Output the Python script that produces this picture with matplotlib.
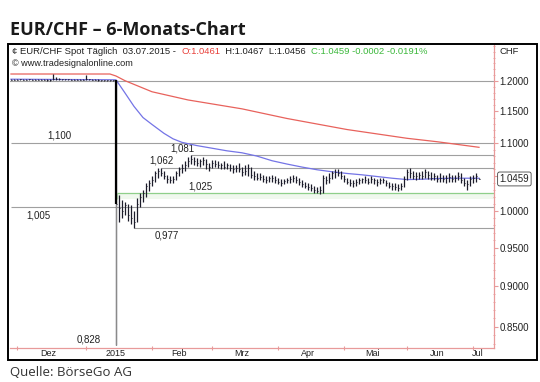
import numpy as np
import pandas as pd
import matplotlib
matplotlib.use('Agg')
import matplotlib.pyplot as plt
from matplotlib.patches import Rectangle
from matplotlib.ticker import FixedLocator, NullFormatter

# daily bars, 2014-11-27 .. 2015-07-03 (business days)
bar_high = [
    # Nov 27 - Jan 14 (peg)
    1.2030, 1.2028, 1.2030, 1.2032, 1.2030, 1.2032, 1.2034, 1.2032, 1.2030, 1.2030,
    1.2028, 1.2026, 1.2026, 1.2040, 1.2110, 1.2060, 1.2050, 1.2040, 1.2036, 1.2034,
    1.2032, 1.2032, 1.2030, 1.2030, 1.2028, 1.2105, 1.2040, 1.2030, 1.2028, 1.2026,
    1.2024, 1.2022, 1.2020, 1.2018, 1.2016,
    # Jan 15 - Jan 30
    1.2010, 1.022, 1.015, 1.012, 1.010, 1.008, 1.000, 1.018, 1.025, 1.030, 1.040, 1.045,
    # Feb
    1.050, 1.058, 1.062, 1.062, 1.058, 1.052, 1.050, 1.050, 1.058, 1.064,
    1.068, 1.072, 1.078, 1.081, 1.078, 1.077, 1.076, 1.078, 1.075, 1.070,
    # Mar
    1.074, 1.074, 1.072, 1.070, 1.072, 1.070, 1.068, 1.066, 1.066, 1.070, 1.064,
    1.066, 1.068, 1.064, 1.058, 1.055, 1.054, 1.052, 1.050, 1.050, 1.052, 1.050,
    # Apr
    1.048, 1.046, 1.046, 1.048, 1.050, 1.052, 1.050, 1.047, 1.044, 1.042, 1.040,
    1.038, 1.036, 1.034, 1.035, 1.052, 1.050, 1.054, 1.058, 1.060, 1.060, 1.058,
    # May
    1.052, 1.048, 1.046, 1.044, 1.046, 1.048, 1.048, 1.050, 1.048, 1.050, 1.048,
    1.046, 1.048, 1.048, 1.044, 1.042, 1.040, 1.040, 1.038, 1.040, 1.050,
    # Jun
    1.060, 1.062, 1.058, 1.056, 1.056, 1.058, 1.060, 1.058, 1.056, 1.054, 1.052,
    1.054, 1.052, 1.052, 1.054, 1.052, 1.052, 1.056, 1.054, 1.048, 1.044, 1.050,
    # Jul
    1.052, 1.054, 1.0467,
]
bar_low = [
    1.2010, 1.2010, 1.2012, 1.2015, 1.2012, 1.2012, 1.2015, 1.2014, 1.2012, 1.2010,
    1.2010, 1.2010, 1.2008, 1.2008, 1.2010, 1.2015, 1.2020, 1.2018, 1.2016, 1.2015,
    1.2014, 1.2014, 1.2012, 1.2012, 1.2010, 1.2010, 1.2012, 1.2010, 1.2010, 1.2008,
    1.2008, 1.2006, 1.2005, 1.2004, 1.2004,
    0.828, 0.985, 0.990, 0.995, 0.986, 0.982, 0.977, 0.985, 1.005, 1.012, 1.020, 1.028,
    1.035, 1.042, 1.048, 1.050, 1.046, 1.040, 1.040, 1.040, 1.045, 1.050,
    1.055, 1.058, 1.064, 1.068, 1.066, 1.065, 1.064, 1.066, 1.060, 1.058,
    1.062, 1.064, 1.062, 1.060, 1.060, 1.060, 1.058, 1.055, 1.056, 1.056, 1.050,
    1.052, 1.050, 1.048, 1.045, 1.044, 1.044, 1.042, 1.040, 1.041, 1.042, 1.040,
    1.038, 1.036, 1.038, 1.040, 1.040, 1.042, 1.040, 1.037, 1.034, 1.032, 1.030,
    1.028, 1.025, 1.025, 1.024, 1.026, 1.038, 1.040, 1.046, 1.048, 1.050, 1.046,
    1.042, 1.038, 1.036, 1.034, 1.036, 1.038, 1.040, 1.040, 1.038, 1.040, 1.038,
    1.036, 1.038, 1.040, 1.036, 1.032, 1.030, 1.030, 1.028, 1.030, 1.034,
    1.044, 1.048, 1.046, 1.044, 1.046, 1.046, 1.048, 1.046, 1.044, 1.044, 1.042,
    1.042, 1.042, 1.040, 1.042, 1.042, 1.042, 1.044, 1.040, 1.036, 1.030, 1.036,
    1.040, 1.042, 1.0456,
]
bar_close = [
    1.2022, 1.2020, 1.2024, 1.2025, 1.2022, 1.2024, 1.2026, 1.2024, 1.2022, 1.2020,
    1.2018, 1.2016, 1.2014, 1.2020, 1.2030, 1.2035, 1.2032, 1.2028, 1.2026, 1.2025,
    1.2024, 1.2024, 1.2022, 1.2022, 1.2020, 1.2030, 1.2026, 1.2020, 1.2018, 1.2016,
    1.2015, 1.2014, 1.2012, 1.2010, 1.2010,
    1.010, 1.004, 1.000, 1.008, 0.995, 0.990, 0.985, 1.010, 1.020, 1.025, 1.035, 1.040,
    1.045, 1.055, 1.058, 1.055, 1.050, 1.046, 1.044, 1.046, 1.054, 1.060,
    1.062, 1.066, 1.072, 1.075, 1.072, 1.070, 1.072, 1.074, 1.068, 1.064,
    1.070, 1.068, 1.066, 1.066, 1.064, 1.066, 1.062, 1.060, 1.062, 1.060, 1.056,
    1.058, 1.062, 1.052, 1.050, 1.048, 1.049, 1.046, 1.045, 1.047, 1.048, 1.044,
    1.042, 1.040, 1.043, 1.044, 1.046, 1.047, 1.044, 1.041, 1.038, 1.036, 1.034,
    1.032, 1.030, 1.029, 1.030, 1.048, 1.045, 1.048, 1.054, 1.056, 1.054, 1.050,
    1.046, 1.042, 1.040, 1.040, 1.042, 1.044, 1.046, 1.044, 1.042, 1.046, 1.044,
    1.042, 1.044, 1.045, 1.040, 1.036, 1.035, 1.034, 1.033, 1.036, 1.046,
    1.056, 1.054, 1.050, 1.050, 1.052, 1.050, 1.056, 1.052, 1.048, 1.050, 1.046,
    1.048, 1.046, 1.048, 1.049, 1.046, 1.048, 1.050, 1.044, 1.040, 1.038, 1.046,
    1.048, 1.050, 1.0459,
]

# moving averages (date, value)
ma_blue_dates = ['2014-11-27', '2015-01-15', '2015-01-20', '2015-01-23', '2015-01-28',
                 '2015-02-02', '2015-02-06', '2015-02-11', '2015-02-16', '2015-02-23',
                 '2015-03-02', '2015-03-09', '2015-03-16', '2015-03-23', '2015-03-30',
                 '2015-04-06', '2015-04-13', '2015-04-20', '2015-04-27', '2015-05-04',
                 '2015-05-11', '2015-05-18', '2015-05-25', '2015-06-01', '2015-06-08',
                 '2015-06-15', '2015-06-22', '2015-06-29', '2015-07-03']
ma_blue = [1.2030, 1.2020, 1.1800, 1.1580, 1.1400, 1.1290, 1.1150, 1.1065, 1.1010, 1.0960,
           1.0920, 1.0880, 1.0850, 1.0800, 1.0730, 1.0680, 1.0635, 1.0595, 1.0565, 1.0540,
           1.0520, 1.0495, 1.0470, 1.0450, 1.0455, 1.0465, 1.0470, 1.0470, 1.0470]
ma_red_dates = ['2014-11-27', '2015-01-13', '2015-01-15', '2015-01-20', '2015-02-02',
                '2015-02-18', '2015-03-16', '2015-04-06', '2015-05-04', '2015-06-01',
                '2015-06-15', '2015-07-03']
ma_red = [1.2118, 1.2118, 1.2084, 1.2005, 1.1820, 1.1685, 1.1540, 1.1385, 1.1210, 1.1073,
          1.1020, 1.0934]

# marked levels
levels = [1.100, 1.081, 1.062, 1.005, 0.977]
level_labels = ['1,100', '1,081', '1,062', '1,005', '0,977']
level_start = ['2014-11-27', '2015-02-19', '2015-02-05', '2014-11-27', '2015-01-23']
level_label_date = ['2014-12-19', '2015-02-16', '2015-02-05', '2014-12-10', '2015-02-09']
level_above = [True, True, True, False, False]
support = 1.025
low_828 = 0.828

month_names = ['Dez', '2015', 'Feb', 'Mrz', 'Apr', 'Mai', 'Jun', 'Jul']
ytick_vals = [0.85, 0.90, 0.95, 1.00, 1.05, 1.10, 1.15, 1.20]
last_close = 1.0459

dates = pd.bdate_range('2014-11-27', '2015-07-03')
xs = np.arange(len(dates))


def idx(d):
    return dates.get_indexer(pd.to_datetime(d))


fig = plt.figure(figsize=(5.4, 3.82), dpi=100)
W, H = 540.0, 382.0
ax = fig.add_axes([10 / W, 34 / H, 484 / W, 304 / H])
ax.set_yscale('log')
ax.set_ylim(0.8251, 1.2639)
ax.set_xlim(-0.33, 161)

pink = '#e89a9a'
grey = '#a0a0a0'

# 1.2000 grid line
ax.axhline(1.2, color=grey, lw=0.8, zorder=1)

# green support zone
x_sup = idx(['2015-01-15'])[0] + 0.5
ax.fill_between([x_sup, 161], support - 0.008, support, color='#f0f8ee', lw=0, zorder=0)
ax.hlines(support, x_sup, 161, color='#8fcf8a', lw=0.9, zorder=1)
ax.vlines(x_sup, support - 0.008, support, color='#bfe3bb', lw=0.8, zorder=1)
ax.text(idx(['2015-02-24'])[0], support + 0.002, '1,025', fontsize=7, color='#222',
        family='Liberation Sans', ha='center', va='bottom')

for v, lab, s, ld, up in zip(levels, level_labels, level_start, level_label_date, level_above):
    ax.hlines(v, idx([s])[0], 161, color=grey, lw=0.8, zorder=1)
    ax.text(idx([ld])[0], v * (1.003 if up else 0.996), lab, fontsize=7, color='#222',
            family='Liberation Sans', ha='center', va='bottom' if up else 'top')
ax.text(idx(['2015-01-02'])[0], low_828 * 1.002, '0,828', fontsize=7, color='#222',
        family='Liberation Sans', ha='center', va='bottom')

# moving averages
ax.plot(idx(ma_red_dates), ma_red, color='#e8625c', lw=0.9, zorder=2)
ax.plot(idx(ma_blue_dates), ma_blue, color='#7474e6', lw=0.9, zorder=3)

# bars
h = np.array(bar_high)
l = np.array(bar_low)
c = np.array(bar_close)
j15 = idx(['2015-01-15'])[0]
bar_col = '#1c1c2a'
ax.vlines(xs, l, h, color=bar_col, lw=0.9, zorder=4)
ax.hlines(c, xs, xs + 0.45, color=bar_col, lw=0.7, zorder=4)
# SNB day: heavy part down to the close, thin grey tail to the low
ax.vlines(xs[j15], l[j15], c[j15], color='#8a8a8a', lw=0.8, zorder=5)
ax.vlines(xs[j15], c[j15], h[j15], color='#000', lw=1.6, zorder=5)

# axes styling
for sp in ['left', 'top']:
    ax.spines[sp].set_visible(False)
ax.spines['right'].set_color(pink)
ax.spines['bottom'].set_color(pink)
ax.spines['right'].set_linewidth(0.9)
ax.spines['bottom'].set_linewidth(0.9)

ax.yaxis.tick_right()
ax.yaxis.set_major_locator(FixedLocator(ytick_vals))
# 1.0500 sits under the last-price box
ax.set_yticklabels(['' if abs(v - 1.05) < 1e-9 else '%.4f' % v for v in ytick_vals])
ax.yaxis.set_minor_locator(FixedLocator(np.arange(0.83, 1.26, 0.01)))
ax.yaxis.set_minor_formatter(NullFormatter())
ax.tick_params(axis='y', which='major', direction='out', length=3, color=pink,
               labelsize=7, labelcolor='#222', pad=1)
ax.tick_params(axis='y', which='minor', direction='inout', length=2, color=pink)
for t in ax.get_yticklabels():
    t.set_family('Liberation Sans')

# month ticks at month starts, labels mid-month
mstart = [np.where((dates.year == y) & (dates.month == m))[0][0]
          for y, m in [(2014, 12), (2015, 1), (2015, 2), (2015, 3), (2015, 4),
                       (2015, 5), (2015, 6), (2015, 7)]]
mend = mstart[1:] + [len(dates) - 1]
ax.set_xticks(mstart)
ax.set_xticklabels([])
ax.tick_params(axis='x', which='major', direction='inout', length=3, color=pink)
ax.set_xticks([a + max((b - a) / 2.0 - 1, 1.5) for a, b in zip(mstart, mend)], minor=True)
ax.set_xticklabels(month_names, minor=True)
ax.tick_params(axis='x', which='minor', length=0, labelsize=6.5, labelcolor='#222', pad=1)
for t in ax.get_xticklabels(minor=True):
    t.set_family('Liberation Sans')

# last price box
ax.annotate('%.4f' % last_close, xy=(1, last_close), xycoords=('axes fraction', 'data'),
            xytext=(4, 0), textcoords='offset points', fontsize=7, va='center',
            family='Liberation Sans', color='#222', zorder=10,
            bbox=dict(boxstyle='round,pad=0.2', fc='white', ec='#444', lw=0.6))

# outer frame
fig.patches.append(Rectangle((8 / W, 22 / H), 529 / W, 316 / H, transform=fig.transFigure,
                             fill=False, ec='black', lw=1.4))

# header line with coloured parts
r = fig.canvas.get_renderer()
xpos = 12 / W
parts = [('\u00a2 EUR/CHF Spot T\u00e4glich  03.07.2015 -  ', '#222'),
         ('O:1.0461', '#e8403a'),
         ('  H:1.0467  L:1.0456  ', '#222'),
         ('C:1.0459 -0.0002 -0.0191%', '#3cb83c')]
for s, col in parts:
    t = fig.text(xpos, 1 - 51 / H, s, fontsize=6.8, color=col, family='Liberation Sans',
                 va='center')
    xpos = t.get_window_extent(renderer=r).x1 / fig.bbox.width
fig.text(12 / W, 1 - 63 / H, '\u00a9 www.tradesignalonline.com', fontsize=6.6, color='#222',
         family='Liberation Sans', va='center')
fig.text(500 / W, 1 - 51 / H, 'CHF', fontsize=6.8, color='#222', family='Liberation Sans',
         va='center')

fig.text(10 / W, 1 - 30 / H, 'EUR/CHF \u2013 6-Monats-Chart', fontsize=13, weight='bold',
         family='Open Sans', color='#1a1a1a', va='center')
fig.text(10 / W, 1 - 373 / H, 'Quelle: B\u00f6rseGo AG', fontsize=9.5, family='Open Sans',
         color='#333', va='center')

fig.savefig('out.png', dpi=100)
